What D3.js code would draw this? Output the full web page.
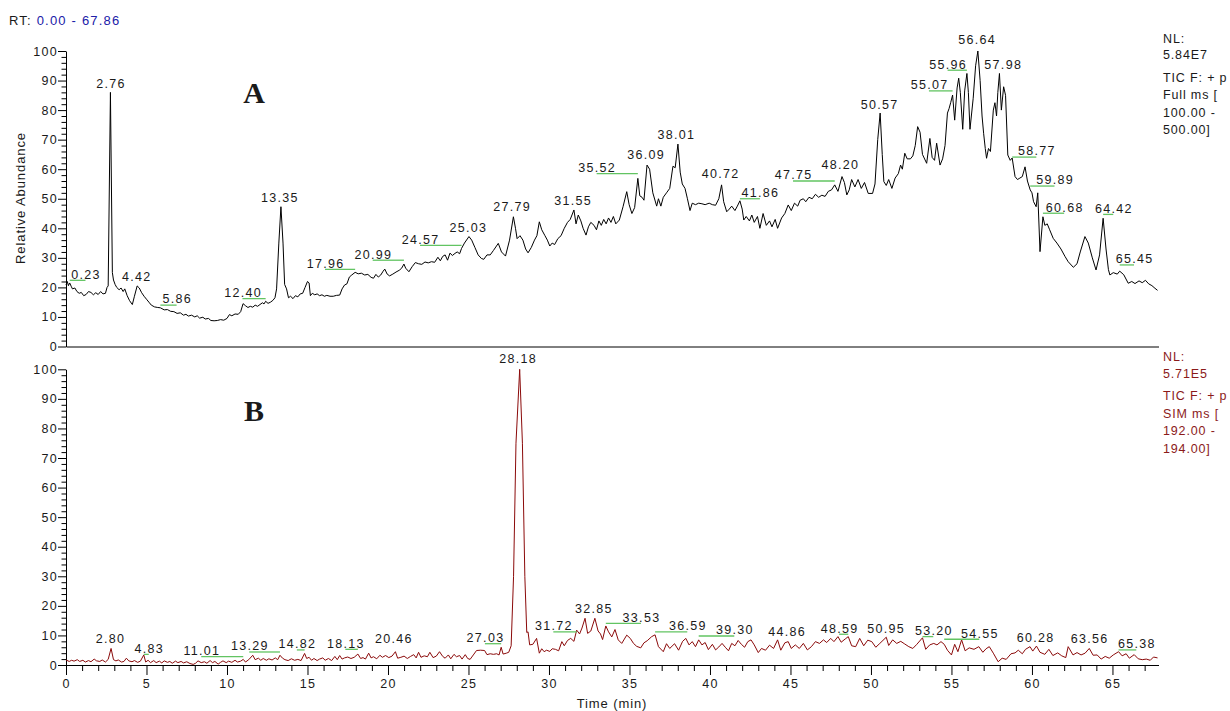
<!DOCTYPE html>
<html>
<head>
<meta charset="utf-8">
<script src="https://cdn.jsdelivr.net/npm/d3@7"></script>
<style>
  body { margin: 0; background: #fff; }
  svg { display: block; }
  text { font-family: "Liberation Sans", Arial, sans-serif; font-size: 12.5px; letter-spacing: 1.3px; fill: #1a1a1a; }
  .title { font-size: 13px; letter-spacing: 0.9px; }
  .info { letter-spacing: 0.85px; }
</style>
</head>
<body>
<svg id="chart" width="1230" height="711"></svg>
<script>
// ---- Chromatogram A: TIC, full scan (time in min, relative abundance %) ----
const traceA = [
  [0.00,20.8],[0.08,22.0],[0.15,20.6],[0.23,21.5],[0.32,20.4],[0.40,19.5],[0.55,19.8],[0.68,18.6],[0.82,18.0],[0.95,18.3],
  [1.10,17.2],[1.25,17.6],[1.40,18.6],[1.55,18.3],[1.70,17.5],[1.85,18.2],[2.00,17.6],[2.15,18.6],[2.30,17.8],[2.45,18.0],
  [2.55,20.0],[2.62,20.5],[2.76,86.0],[2.88,25.0],[2.95,22.5],[3.05,21.0],[3.15,20.0],[3.30,19.2],[3.42,19.8],[3.55,18.6],
  [3.65,19.5],[3.80,17.2],[3.95,15.5],[4.12,14.2],[4.25,17.0],[4.42,20.5],[4.55,19.8],[4.70,18.2],[4.85,17.0],[5.00,16.0],
  [5.15,15.0],[5.30,14.0],[5.50,13.4],[5.70,13.2],[5.86,13.1],[6.10,12.4],[6.30,12.5],[6.50,11.9],[6.70,11.8],[6.90,11.2],
  [7.10,11.4],[7.30,10.6],[7.45,10.9],[7.60,10.3],[7.80,10.6],[8.00,10.0],[8.15,10.4],[8.30,9.6],[8.50,9.9],[8.65,9.3],
  [8.85,9.5],[9.00,8.8],[9.20,8.7],[9.40,8.8],[9.60,9.1],[9.80,8.9],[10.00,9.5],[10.15,10.8],[10.30,10.4],[10.50,11.0],
  [10.70,10.9],[10.85,11.8],[11.00,14.5],[11.15,13.8],[11.30,13.2],[11.45,13.6],[11.60,13.3],[11.75,14.0],[11.90,13.6],[12.05,14.2],
  [12.20,14.8],[12.30,14.4],[12.40,15.3],[12.55,14.6],[12.70,15.0],[12.85,15.6],[12.98,16.5],[13.08,19.5],[13.22,35.0],[13.35,47.3],
  [13.48,35.0],[13.58,21.0],[13.70,19.5],[13.82,16.5],[13.95,17.0],[14.10,16.2],[14.25,17.2],[14.40,16.8],[14.55,17.8],[14.70,18.0],
  [14.85,20.0],[15.00,22.0],[15.10,21.5],[15.18,17.2],[15.30,18.0],[15.45,17.5],[15.60,17.8],[15.75,17.2],[15.90,17.5],[16.05,17.0],
  [16.20,17.3],[16.40,17.0],[16.60,17.0],[16.80,17.3],[17.00,17.4],[17.15,19.5],[17.30,20.8],[17.45,21.2],[17.60,23.5],[17.75,24.2],
  [17.96,25.1],[18.15,24.6],[18.35,24.8],[18.55,24.2],[18.75,24.4],[18.95,23.4],[19.10,23.1],[19.25,24.4],[19.40,23.5],[19.55,24.2],
  [19.70,25.5],[19.80,26.2],[19.95,24.5],[20.10,23.9],[20.30,24.5],[20.50,25.2],[20.70,25.8],[20.85,26.5],[20.99,27.9],[21.10,26.5],
  [21.30,25.3],[21.50,27.0],[21.70,28.4],[21.90,28.0],[22.10,27.8],[22.30,28.6],[22.50,28.3],[22.70,28.7],[22.90,28.5],[23.10,30.2],
  [23.25,29.0],[23.40,30.5],[23.55,31.0],[23.70,29.2],[23.85,31.6],[24.00,30.8],[24.16,31.5],[24.30,32.0],[24.45,31.4],[24.57,33.2],
  [24.75,35.0],[25.03,37.2],[25.20,36.0],[25.40,33.5],[25.60,31.0],[25.80,29.8],[25.95,29.5],[26.15,31.0],[26.35,31.0],[26.55,32.5],
  [26.85,34.9],[27.05,32.0],[27.30,30.6],[27.55,36.0],[27.79,43.9],[27.92,40.0],[28.02,36.5],[28.20,37.5],[28.38,36.0],[28.55,33.0],
  [28.70,31.7],[28.90,33.5],[29.10,36.0],[29.25,37.5],[29.40,42.2],[29.55,39.5],[29.75,37.5],[29.90,36.0],[30.05,34.0],[30.20,35.0],
  [30.35,34.5],[30.55,36.5],[30.75,37.5],[30.95,40.0],[31.15,42.0],[31.32,43.0],[31.55,46.2],[31.68,41.5],[31.82,44.5],[31.98,42.5],
  [32.12,40.0],[32.30,37.7],[32.45,40.5],[32.60,42.0],[32.80,41.0],[32.95,39.5],[33.10,42.5],[33.25,41.0],[33.40,43.0],[33.55,41.5],
  [33.70,43.5],[33.85,42.0],[34.00,44.0],[34.15,41.5],[34.37,42.8],[34.60,47.3],[34.83,52.4],[34.98,48.0],[35.15,45.0],[35.32,47.0],
  [35.52,56.9],[35.64,51.0],[35.78,50.5],[35.90,49.5],[36.09,61.4],[36.25,60.0],[36.45,52.0],[36.69,47.5],[36.80,50.0],[36.95,47.5],
  [37.10,50.5],[37.30,52.0],[37.50,53.5],[37.70,61.0],[37.84,60.5],[38.01,68.5],[38.15,59.0],[38.28,55.0],[38.45,53.5],[38.60,50.0],
  [38.76,46.0],[38.90,48.5],[39.10,48.0],[39.30,48.5],[39.50,48.3],[39.70,48.0],[39.95,48.5],[40.15,48.0],[40.35,47.8],[40.55,50.0],
  [40.72,54.7],[40.85,49.0],[41.04,45.6],[41.20,46.5],[41.35,47.5],[41.55,46.0],[41.70,47.5],[41.86,49.3],[42.00,46.5],[42.10,42.8],
  [42.25,44.0],[42.45,42.5],[42.60,44.5],[42.75,42.0],[42.95,44.0],[43.10,40.0],[43.30,45.0],[43.50,41.0],[43.70,42.5],[43.85,40.5],
  [44.05,43.0],[44.20,40.0],[44.45,43.5],[44.65,45.0],[44.86,47.9],[45.05,46.0],[45.25,48.5],[45.45,47.5],[45.60,49.5],[45.80,50.0],
  [45.95,49.0],[46.15,50.5],[46.35,50.0],[46.55,51.5],[46.75,50.5],[46.95,51.2],[47.15,50.8],[47.35,52.5],[47.55,53.0],[47.75,54.7],
  [47.95,52.5],[48.20,57.5],[48.35,55.5],[48.50,51.3],[48.65,53.0],[48.80,56.5],[49.00,54.0],[49.20,56.5],[49.40,53.5],[49.60,55.5],
  [49.83,51.8],[50.10,51.8],[50.25,55.0],[50.42,70.0],[50.57,79.0],[50.70,65.0],[50.80,55.8],[50.95,54.5],[51.10,56.5],[51.30,53.5],
  [51.50,57.0],[51.70,58.5],[51.84,61.4],[51.95,60.0],[52.10,65.4],[52.25,63.5],[52.45,63.5],[52.60,64.5],[52.75,68.0],[52.90,74.4],
  [53.05,72.5],[53.20,65.0],[53.46,62.0],[53.66,70.4],[53.80,64.0],[53.95,63.0],[54.08,68.8],[54.29,61.4],[54.45,63.5],[54.60,68.0],
  [54.75,79.0],[54.85,80.5],[54.95,82.5],[55.07,85.1],[55.20,76.6],[55.35,87.5],[55.45,90.8],[55.55,86.0],[55.70,73.5],[55.82,86.5],
  [55.96,92.4],[56.05,86.0],[56.15,73.5],[56.35,84.0],[56.50,95.0],[56.64,100.0],[56.78,90.0],[56.90,78.0],[57.00,72.0],[57.10,67.0],
  [57.18,63.7],[57.30,67.0],[57.42,66.0],[57.60,80.0],[57.70,82.5],[57.80,78.0],[57.88,86.0],[57.98,92.4],[58.10,80.0],[58.24,87.9],
  [58.36,85.0],[58.50,64.8],[58.65,63.0],[58.77,63.8],[58.95,57.5],[59.10,56.5],[59.25,57.0],[59.40,57.5],[59.57,60.8],[59.72,56.0],
  [59.89,53.0],[60.00,52.0],[60.10,49.0],[60.26,47.3],[60.36,52.0],[60.50,32.1],[60.68,43.9],[60.80,41.0],[60.95,41.5],[61.10,39.5],
  [61.32,36.6],[61.55,35.0],[61.80,33.0],[62.05,30.5],[62.25,28.7],[62.57,26.8],[62.80,28.0],[63.00,32.0],[63.29,37.2],[63.50,35.0],
  [63.75,30.0],[63.98,25.9],[64.20,31.0],[64.42,43.4],[64.60,33.0],[64.75,26.0],[64.84,24.2],[65.05,25.0],[65.30,24.5],[65.45,25.5],
  [65.70,24.3],[65.98,21.4],[66.20,22.0],[66.40,21.3],[66.65,22.2],[66.85,21.6],[67.05,22.4],[67.25,21.2],[67.45,20.6],[67.64,19.7],
  [67.80,19.0]
];

// ---- Chromatogram B: SIM trace (time in min, relative abundance %) ----
const traceB = [
  [0.00,1.7],[0.20,1.2],[0.35,1.6],[0.50,1.3],[0.70,1.8],[0.85,1.2],[1.05,1.6],[1.20,1.0],[1.40,1.5],[1.55,1.1],
  [1.75,2.0],[1.90,1.4],[2.10,1.2],[2.25,1.7],[2.45,1.0],[2.62,1.9],[2.80,5.6],[2.95,1.8],[3.10,1.4],[3.25,1.7],
  [3.45,1.0],[3.60,1.2],[3.75,2.3],[3.90,1.4],[4.10,1.1],[4.25,1.5],[4.45,0.9],[4.62,1.3],[4.83,3.4],[4.95,1.0],
  [5.10,1.6],[5.25,0.8],[5.45,1.5],[5.60,0.8],[5.80,1.3],[5.95,0.7],[6.10,1.4],[6.30,0.9],[6.45,1.2],[6.60,0.6],
  [6.80,1.3],[6.95,0.8],[7.15,1.2],[7.30,0.7],[7.50,1.1],[7.70,0.5],[7.90,0.2],[8.05,0.6],[8.20,1.4],[8.40,0.8],
  [8.60,1.1],[8.75,0.6],[8.95,1.5],[9.10,0.8],[9.25,1.2],[9.45,0.3],[9.60,0.9],[9.75,1.4],[9.95,0.8],[10.10,1.3],
  [10.30,0.9],[10.50,1.6],[10.65,1.0],[10.85,1.3],[11.01,1.9],[11.15,1.0],[11.35,1.8],[11.60,3.3],[11.75,1.8],[11.95,2.3],
  [12.10,1.6],[12.25,2.2],[12.45,1.6],[12.60,2.1],[12.80,1.7],[13.00,2.4],[13.15,1.8],[13.29,3.3],[13.45,2.3],[13.60,1.8],
  [13.80,1.5],[14.00,2.1],[14.20,1.6],[14.40,1.9],[14.60,1.5],[14.82,3.9],[14.95,2.2],[15.10,2.6],[15.25,1.6],[15.40,2.2],
  [15.60,1.5],[15.75,2.0],[15.95,2.4],[16.10,1.6],[16.30,2.2],[16.50,1.5],[16.70,2.9],[16.85,1.8],[17.00,3.2],[17.15,2.0],
  [17.30,2.4],[17.50,2.7],[17.70,2.2],[17.90,2.6],[18.13,3.7],[18.30,2.2],[18.45,2.5],[18.60,2.0],[18.80,4.0],[18.95,2.4],
  [19.10,2.8],[19.30,2.1],[19.50,3.3],[19.65,2.6],[19.85,3.2],[20.05,2.5],[20.25,3.0],[20.46,4.5],[20.60,2.3],[20.80,2.6],
  [21.00,3.0],[21.20,2.2],[21.40,2.9],[21.60,3.5],[21.75,2.4],[21.90,4.3],[22.05,2.6],[22.25,3.1],[22.45,2.8],[22.60,4.3],
  [22.80,2.5],[23.00,3.0],[23.20,4.5],[23.40,2.9],[23.55,2.3],[23.75,3.4],[23.90,2.1],[24.10,3.6],[24.25,2.8],[24.45,3.2],
  [24.60,2.0],[24.80,3.5],[24.95,2.2],[25.10,1.9],[25.30,3.4],[25.50,4.9],[25.75,5.0],[26.00,4.9],[26.15,3.5],[26.35,3.8],
  [26.55,3.6],[26.75,3.8],[26.90,3.4],[27.03,6.0],[27.15,3.7],[27.35,4.0],[27.50,4.3],[27.65,6.5],[27.80,30.0],[27.95,75.0],
  [28.18,100.0],[28.35,75.0],[28.50,30.0],[28.62,11.0],[28.70,11.2],[28.80,6.8],[29.00,7.0],[29.23,9.0],[29.40,4.0],[29.55,5.5],
  [29.70,4.5],[29.85,5.0],[30.05,4.6],[30.20,5.5],[30.40,5.3],[30.60,4.8],[30.80,7.9],[30.95,6.5],[31.15,8.3],[31.35,9.0],
  [31.55,8.0],[31.72,11.8],[31.90,10.5],[32.05,12.5],[32.24,15.8],[32.40,10.7],[32.60,11.5],[32.85,15.8],[33.05,11.5],[33.20,10.5],
  [33.33,8.6],[33.53,13.2],[33.70,11.2],[33.90,9.5],[34.10,12.0],[34.30,8.5],[34.52,7.3],[34.83,10.1],[35.05,9.0],[35.25,7.3],
  [35.45,6.3],[35.70,5.8],[35.90,7.5],[36.10,8.2],[36.38,9.6],[36.59,10.2],[36.80,6.2],[37.10,4.5],[37.30,7.2],[37.50,5.6],
  [37.80,7.2],[38.05,5.0],[38.30,8.0],[38.50,9.0],[38.70,6.8],[38.90,7.9],[39.10,6.2],[39.30,8.5],[39.50,6.8],[39.70,7.6],
  [39.90,5.2],[40.15,7.0],[40.35,5.1],[40.55,6.1],[40.75,7.3],[40.95,6.0],[41.15,4.8],[41.35,7.3],[41.55,6.5],[41.75,8.3],
  [41.95,7.0],[42.15,6.0],[42.35,7.9],[42.55,8.5],[42.75,6.8],[43.00,4.2],[43.20,5.6],[43.45,5.0],[43.70,6.7],[43.95,5.6],
  [44.20,8.5],[44.40,5.0],[44.65,7.5],[44.86,7.9],[45.05,5.6],[45.30,6.8],[45.55,5.6],[45.80,7.3],[46.05,5.1],[46.30,6.2],
  [46.55,7.9],[46.80,7.3],[47.05,8.5],[47.25,7.6],[47.50,9.0],[47.70,7.9],[47.95,9.6],[48.15,7.7],[48.40,8.8],[48.59,9.6],
  [48.80,6.5],[49.05,6.2],[49.30,9.0],[49.55,6.5],[49.80,8.4],[50.05,7.9],[50.30,6.0],[50.55,7.3],[50.95,9.4],[51.10,6.6],
  [51.35,8.5],[51.60,7.3],[51.85,8.0],[52.10,7.1],[52.35,6.2],[52.60,5.6],[52.85,7.0],[53.20,9.2],[53.40,5.3],[53.65,6.8],
  [53.90,7.3],[54.10,6.8],[54.35,7.9],[54.55,7.0],[54.75,5.0],[55.00,3.4],[55.20,7.0],[55.40,4.5],[55.63,8.5],[55.85,4.8],
  [56.10,5.8],[56.40,5.3],[56.70,6.2],[56.95,4.3],[57.15,5.5],[57.35,6.2],[57.60,4.0],[57.90,1.1],[58.15,2.3],[58.40,1.9],
  [58.70,3.8],[58.95,4.1],[59.15,5.0],[59.40,3.8],[59.60,5.3],[59.88,6.2],[60.05,4.7],[60.28,6.4],[60.50,4.3],[60.80,3.6],
  [61.05,5.3],[61.30,3.2],[61.60,4.1],[61.85,3.1],[62.10,2.5],[62.25,6.2],[62.55,3.4],[62.80,4.2],[63.05,3.4],[63.30,4.0],
  [63.56,5.6],[63.80,3.3],[64.05,3.4],[64.30,2.0],[64.55,2.9],[64.80,2.3],[65.05,3.4],[65.38,4.5],[65.60,3.1],[65.85,3.8],
  [66.05,2.3],[66.35,3.5],[66.60,2.1],[66.85,1.8],[67.10,2.0],[67.35,1.6],[67.55,2.7],[67.80,2.4]
];

// Peak labels: [retention time, label centre (min), label level (%)]
const peaksA = [
  [0.23,1.21,22.4],[2.76,2.76,86.8],[4.42,4.36,21.7],[5.86,6.87,14.0],[12.40,10.96,16.2],[13.35,13.25,48.3],
  [17.96,16.09,26.1],[20.99,19.05,29.2],[24.57,21.99,34.2],[25.03,24.95,38.3],[27.79,27.68,45.3],[31.55,31.47,47.2],
  [35.52,32.96,58.5],[36.09,36.00,62.8],[38.01,37.88,69.5],[40.72,40.62,56.3],[41.86,43.10,50.0],[47.75,45.16,56.0],
  [48.20,48.07,59.4],[50.57,50.50,79.9],[55.07,53.60,86.5],[55.96,54.76,93.5],[56.64,56.56,101.7],[57.98,58.18,93.2],
  [58.77,60.27,64.1],[59.89,61.40,54.3],[60.68,62.00,45.1],[64.42,65.05,44.7],[65.45,66.34,27.6]
];
const peaksB = [
  [2.80,2.73,6.7],[4.83,5.14,3.6],[11.01,8.40,2.8],[13.29,11.38,4.4],[14.82,14.34,5.1],[18.13,17.35,5.3],
  [20.46,20.33,6.7],[27.03,26.02,7.2],[28.18,28.05,101.7],[31.72,30.27,11.2],[32.85,32.75,17.1],[33.53,35.71,14.1],
  [36.59,38.59,11.2],[39.30,41.51,9.8],[44.86,44.76,9.2],[48.59,48.02,10.4],[50.95,50.91,10.4],[53.20,53.87,9.6],
  [54.55,56.73,8.7],[60.28,60.19,7.3],[63.56,63.54,6.7],[65.38,66.48,5.1]
];

const yMajor = [0,10,20,30,40,50,60,70,80,90,100];
const xMajor = [0,5,10,15,20,25,30,35,40,45,50,55,60,65];
const timeRange = [0, 67.86];
const infoA = ["NL:", "5.84E7", "TIC F: + p", "Full ms [", "100.00 -", "500.00]"];
const infoB = ["NL:", "5.71E5", "TIC F: + p", "SIM ms [", "192.00 -", "194.00]"];

// ---- drawing ----
const svg = d3.select("#chart");
const x = d3.scaleLinear().domain(timeRange).range([66, 1158.5]);
const panels = [
  { trace: traceA, peaks: peaksA, y: d3.scaleLinear().domain([0,100]).range([346.5, 51]),
    color: "#000000", info: infoA, infoColor: "#1a1a1a", tag: "A", showTime: false },
  { trace: traceB, peaks: peaksB, y: d3.scaleLinear().domain([0,100]).range([665, 369.3]),
    color: "#8b0a0a", info: infoB, infoColor: "#8b1a1a", tag: "B", showTime: true }
];
const minorY = d3.range(0, 101, 2).filter(v => v % 10 !== 0);
const minorX = d3.range(0, 68, 1).filter(v => v % 5 !== 0);
const infoLineOffsets = [0, 16.7, 39, 56.7, 74.4, 91.7];
const tickFont = a => a.selectAll("text").attr("fill", "#1a1a1a")
  .style("font-size", "12.5px").style("font-family", "\"Liberation Sans\", Arial, sans-serif");

panels.forEach(p => {
  const g = svg.append("g");
  const y0 = p.y(0), y100 = p.y(100);

  // y axis: major ticks with labels, minor ticks every 2 %
  g.append("g").attr("transform", "translate(66,0)")
    .call(d3.axisLeft(p.y).tickValues(minorY).tickSize(4.5).tickSizeOuter(0).tickFormat(""))
    .call(a => a.select(".domain").remove());
  g.append("g").attr("transform", "translate(66,0)")
    .call(d3.axisLeft(p.y).tickValues(yMajor).tickSize(8).tickPadding(0).tickSizeOuter(0))
    .call(tickFont);

  // x axis
  if (p.showTime) {
    g.append("g").attr("transform", `translate(0,${y0})`)
      .call(d3.axisBottom(x).tickValues(minorX).tickSize(6).tickSizeOuter(0).tickFormat(""))
      .call(a => a.select(".domain").remove());
    g.append("g").attr("transform", `translate(0,${y0})`)
      .call(d3.axisBottom(x).tickValues(xMajor).tickSize(10).tickPadding(4).tickSizeOuter(0))
      .call(tickFont);
  } else {
    g.append("g").attr("transform", `translate(0,${y0})`)
      .call(d3.axisBottom(x).tickValues([]).tickSizeOuter(0));
  }

  // trace
  const line = d3.line().x(d => x(d[0])).y(d => p.y(d[1]));
  g.append("path").datum(p.trace)
    .attr("d", line).attr("fill", "none").attr("stroke", p.color)
    .attr("stroke-width", 1).attr("stroke-linejoin", "round");

  // peak label leaders (from retention time to the shifted label)
  g.selectAll("line.leader").data(p.peaks.filter(d => Math.abs(d[1] - d[0]) > 0.3))
    .join("line").attr("class", "leader")
    .attr("x1", d => x(d[0])).attr("x2", d => x(d[1]))
    .attr("y1", d => p.y(d[2])).attr("y2", d => p.y(d[2]))
    .attr("stroke", "#62c462").attr("stroke-width", 1.3);

  // peak labels
  g.selectAll("text.peak").data(p.peaks).join("text").attr("class", "peak")
    .attr("x", d => x(d[1]) + 0.6).attr("y", d => p.y(d[2]) - 1.7)
    .attr("text-anchor", "middle")
    .text(d => d[0].toFixed(2));

  // panel tag
  g.append("text").attr("x", 254).attr("y", y100 + 52)
    .attr("text-anchor", "middle")
    .style("font-family", "\"Liberation Serif\", \"Times New Roman\", serif")
    .style("font-weight", "bold").style("font-size", "30px").style("letter-spacing", "0px")
    .attr("fill", "#000").text(p.tag);

  // scan information at the right
  g.selectAll("text.info").data(p.info).join("text").attr("class", "info")
    .attr("x", 1163).attr("y", (d, i) => y100 - 8.4 + infoLineOffsets[i])
    .style("fill", p.infoColor).text(d => d);
});

// retention time range header
const rt = svg.append("text").attr("class", "title").attr("x", 9).attr("y", 25)
  .style("letter-spacing", "1.2px");
rt.append("tspan").text("RT: ");
rt.append("tspan").style("fill", "#2020a8").text("0.00 - 67.86");

// axis titles
svg.append("text").attr("class", "title").attr("transform", "translate(25,198) rotate(-90)")
  .attr("text-anchor", "middle").text("Relative Abundance");
svg.append("text").attr("class", "title").attr("x", 612).attr("y", 708)
  .attr("text-anchor", "middle").text("Time (min)");
</script>
</body>
</html>
